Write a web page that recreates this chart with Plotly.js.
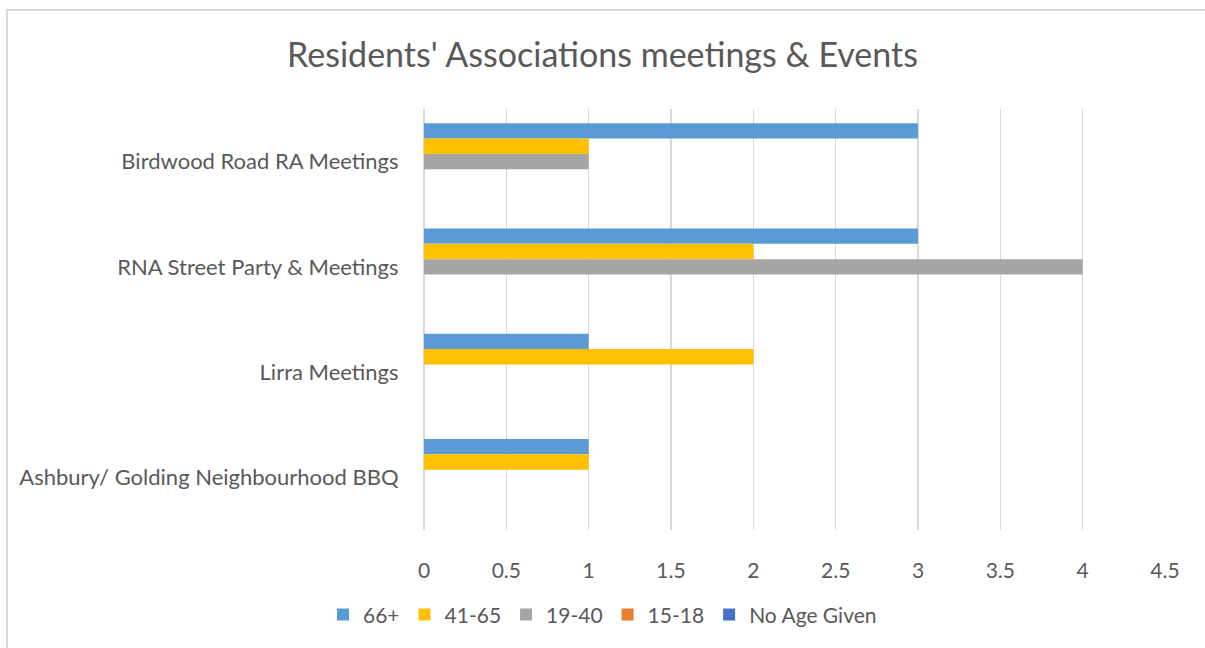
<!DOCTYPE html>
<html>
<head>
<meta charset="utf-8">
<script src="https://cdn.plot.ly/plotly-3.0.1.min.js"></script>
<style>
html,body{margin:0;padding:0;background:#fff;overflow:hidden;}
#chart{width:1205px;height:648px;}
#frame{position:absolute;left:6px;top:9px;width:1220px;height:660px;border:2px solid #d9d9d9;pointer-events:none;box-sizing:border-box;}
</style>
</head>
<body>
<div id="chart"></div>
<div id="frame"></div>
<script>
const categories = ["Birdwood Road RA Meetings", "RNA Street Party & Meetings", "Lirra Meetings", "Ashbury/ Golding Neighbourhood BBQ"];
const seriesNames = ["66+", "41-65", "19-40", "15-18", "No Age Given"];
const age66plus = [3, 3, 1, 1];
const age41to65 = [1, 2, 2, 1];
const age19to40 = [1, 4, 0, 0];
const age15to18 = [0, 0, 0, 0];
const noAgeGiven = [0, 0, 0, 0];
const seriesValues = [age66plus, age41to65, age19to40, age15to18, noAgeGiven];
const colors = ["#5B9BD5", "#FFC000", "#A5A5A5", "#ED7D31", "#4472C4"];

const FONT = "Lato, Open Sans, sans-serif";
const traces = seriesNames.map((n, i) => ({
  type: "bar",
  orientation: "h",
  name: n,
  y: categories,
  x: seriesValues[i],
  marker: {color: colors[i], line: {width: 0}},
  hoverinfo: "x+name"
}));

const layout = {
  width: 1205, height: 648,
  margin: {l: 424, r: 40, t: 109, b: 118},
  paper_bgcolor: "#ffffff",
  plot_bgcolor: "#ffffff",
  font: {family: FONT, color: "#595959", size: 20},
  title: {text: "Residents' Associations meetings & Events", x: 0.5, xanchor: "center", y: 0.915, yanchor: "middle", font: {family: FONT, size: 34, color: "#595959"}},
  barmode: "group",
  bargap: 0.27,
  bargroupgap: 0,
  xaxis: {
    range: [0, 4.5], dtick: 0.5, tick0: 0,
    showgrid: true, gridcolor: "#d9d9d9", gridwidth: 1.5,
    zeroline: true, zerolinecolor: "#d9d9d9", zerolinewidth: 1.5,
    showline: false,
    ticks: "outside", ticklen: 22, tickcolor: "rgba(0,0,0,0)",
    tickfont: {size: 21, color: "#595959"},
    fixedrange: true
  },
  yaxis: {
    type: "category",
    categoryorder: "array", categoryarray: categories,
    autorange: "reversed",
    showgrid: false, zeroline: false, showline: false,
    ticks: "outside", ticklen: 20, tickcolor: "rgba(0,0,0,0)",
    tickfont: {size: 22, color: "#595959"},
    fixedrange: true
  },
  legend: {
    orientation: "h", x: 0.5, xanchor: "center", xref: "container",
    y: 0.051, yanchor: "middle", yref: "container",
    font: {size: 21, color: "#595959"},
    itemwidth: 30, tracegroupgap: 0
  },
  showlegend: true
};

Plotly.newPlot("chart", traces, layout, {displayModeBar: false, staticPlot: true});
</script>
</body>
</html>
